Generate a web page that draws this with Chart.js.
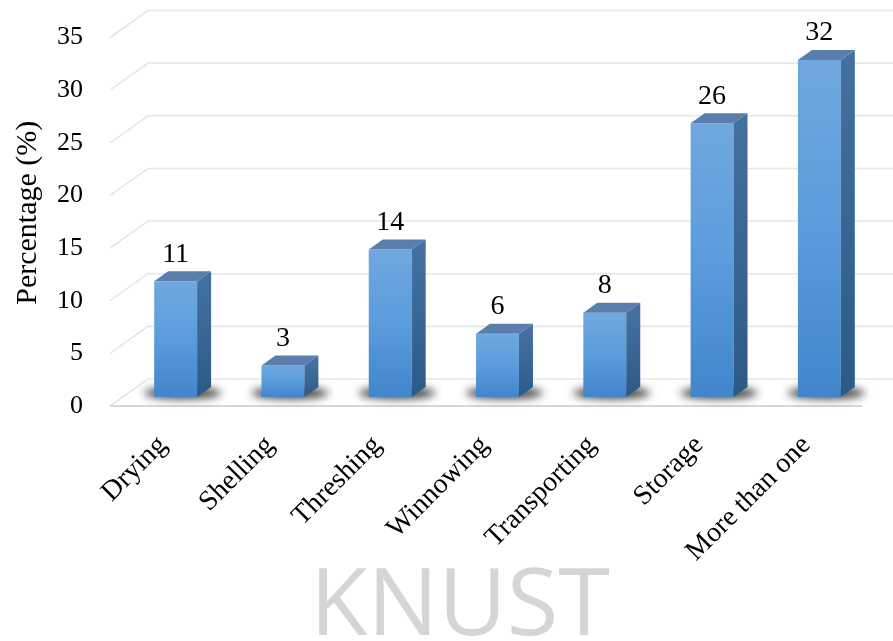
<!DOCTYPE html>
<html>
<head>
<meta charset="utf-8">
<script src="https://cdn.jsdelivr.net/npm/chart.js@4"></script>
<style>
html,body{margin:0;padding:0;background:#fff;}
#wrap{width:893px;height:641px;position:relative;}
</style>
</head>
<body>
<div id="wrap"><canvas id="c" width="893" height="641"></canvas></div>
<script>
const categories = ["Drying","Shelling","Threshing","Winnowing","Transporting","Storage","More than one"];
const percentages = [11, 3, 14, 6, 8, 26, 32];
const yTicks = [0, 5, 10, 15, 20, 25, 30, 35];
const yTitle = "Percentage (%)";
const watermark = "KNUST";

const SERIF = "'Liberation Serif','Times New Roman',serif";
const DEPTH_X = 14, DEPTH_Y = -10;      // bar depth
const WALL_X = 38, WALL_Y = -27;        // back wall offset from floor front
const FRONT_Y = 9;                       // floor front edge below bar base

const threeD = {
  id: 'threeD',
  beforeDatasetsDraw(chart) {
    const {ctx, chartArea} = chart;
    const y = chart.scales.y;
    const base0 = y.getPixelForValue(0);
    const frontY = base0 + FRONT_Y;
    const leftFront = chartArea.left - 12;
    ctx.save();
    ctx.strokeStyle = '#e6e6e6';
    ctx.lineWidth = 1.6;
    yTicks.forEach(v => {
      const fy = y.getPixelForValue(v) + FRONT_Y;
      const by = fy + WALL_Y;
      ctx.beginPath();
      ctx.moveTo(leftFront, fy);
      ctx.lineTo(leftFront + WALL_X, by);
      ctx.lineTo(chart.width, by);
      ctx.stroke();
    });
    ctx.strokeStyle = '#d6d6d6';
    ctx.lineWidth = 2.2;
    ctx.beginPath();
    ctx.moveTo(leftFront, frontY);
    ctx.lineTo(chartArea.right - 11, frontY);
    ctx.stroke();
    const meta = chart.getDatasetMeta(0);
    meta.data.forEach(bar => {
      ctx.save();
      ctx.filter = 'blur(4px)';
      ctx.fillStyle = 'rgba(15,15,15,0.8)';
      ctx.beginPath();
      ctx.ellipse(bar.x + 7, bar.base - 4, bar.width * 0.9, 6, 0, 0, Math.PI * 2);
      ctx.fill();
      ctx.restore();
    });
    ctx.restore();
  },
  afterDatasetsDraw(chart) {
    const {ctx} = chart;
    const meta = chart.getDatasetMeta(0);
    ctx.save();
    meta.data.forEach((bar, i) => {
      const l = bar.x - bar.width / 2, r = bar.x + bar.width / 2;
      const t = bar.y, b = bar.base;
      const sg = ctx.createLinearGradient(0, t, 0, b);
      sg.addColorStop(0, '#44709f');
      sg.addColorStop(1, '#2c5a87');
      ctx.fillStyle = sg;
      ctx.beginPath();
      ctx.moveTo(r, t);
      ctx.lineTo(r + DEPTH_X, t + DEPTH_Y);
      ctx.lineTo(r + DEPTH_X, b + DEPTH_Y);
      ctx.lineTo(r, b);
      ctx.closePath();
      ctx.fill();
      ctx.fillStyle = '#5a7eab';
      ctx.beginPath();
      ctx.moveTo(l, t);
      ctx.lineTo(l + DEPTH_X, t + DEPTH_Y);
      ctx.lineTo(r + DEPTH_X, t + DEPTH_Y);
      ctx.lineTo(r, t);
      ctx.closePath();
      ctx.fill();
      ctx.fillStyle = '#000';
      ctx.font = `28px ${SERIF}`;
      ctx.textAlign = 'center';
      ctx.textBaseline = 'middle';
      ctx.fillText(String(percentages[i]), bar.x, t - 27);
    });
    ctx.restore();
  },
  afterDraw(chart) {
    const {ctx} = chart;
    ctx.save();
    ctx.fillStyle = '#d5d5d5';
    ctx.font = "400 94px 'Open Sans','Noto Sans',sans-serif";
    ctx.textAlign = 'center';
    ctx.textBaseline = 'alphabetic';
    ctx.fillText(watermark, 460, 635);
    ctx.restore();
  }
};

new Chart(document.getElementById('c'), {
  type: 'bar',
  data: {
    labels: categories,
    datasets: [{
      data: percentages,
      borderWidth: 0,
      categoryPercentage: 1,
      barPercentage: 0.40,
      backgroundColor: (c) => {
        const chart = c.chart;
        if (!chart.chartArea || c.raw === undefined) return '#5297d8';
        const ys = chart.scales.y;
        const top = ys.getPixelForValue(c.raw), bot = ys.getPixelForValue(0);
        const g = chart.ctx.createLinearGradient(0, top, 0, bot);
        g.addColorStop(0, '#70a8df');
        g.addColorStop(0.5, '#5a9cdc');
        g.addColorStop(1, '#4185cb');
        return g;
      }
    }]
  },
  options: {
    responsive: false,
    animation: false,
    devicePixelRatio: 1,
    layout: { padding: { top: 28.5, right: 20, left: 0, bottom: 0 } },
    plugins: { legend: { display: false }, tooltip: { enabled: false } },
    scales: {
      x: {
        grid: { display: false, drawTicks: false },
        border: { display: false },
        ticks: {
          color: '#000',
          font: { family: SERIF, size: 28 },
          minRotation: 45, maxRotation: 45,
          padding: 32, autoSkip: false,
          labelOffset: -13
        },
        afterFit: (s) => { s.height = 244; s.paddingLeft = 0; s.paddingRight = 0; }
      },
      y: {
        min: 0, max: 35,
        afterBuildTicks: (s) => { s.ticks = yTicks.map(v => ({ value: v })); },
        grid: { display: false, drawTicks: false },
        border: { display: false },
        ticks: {
          color: '#000',
          font: { family: SERIF, size: 26 },
          padding: 39,
          labelOffset: 9
        },
        title: {
          display: true,
          text: yTitle,
          color: '#000',
          font: { family: SERIF, size: 30 },
          padding: { top: 10, bottom: 0 }
        },
        afterFit: (s) => { s.width = 122; s.paddingTop = 0; s.paddingBottom = 0; }
      }
    }
  },
  plugins: [threeD]
});
</script>
</body>
</html>
